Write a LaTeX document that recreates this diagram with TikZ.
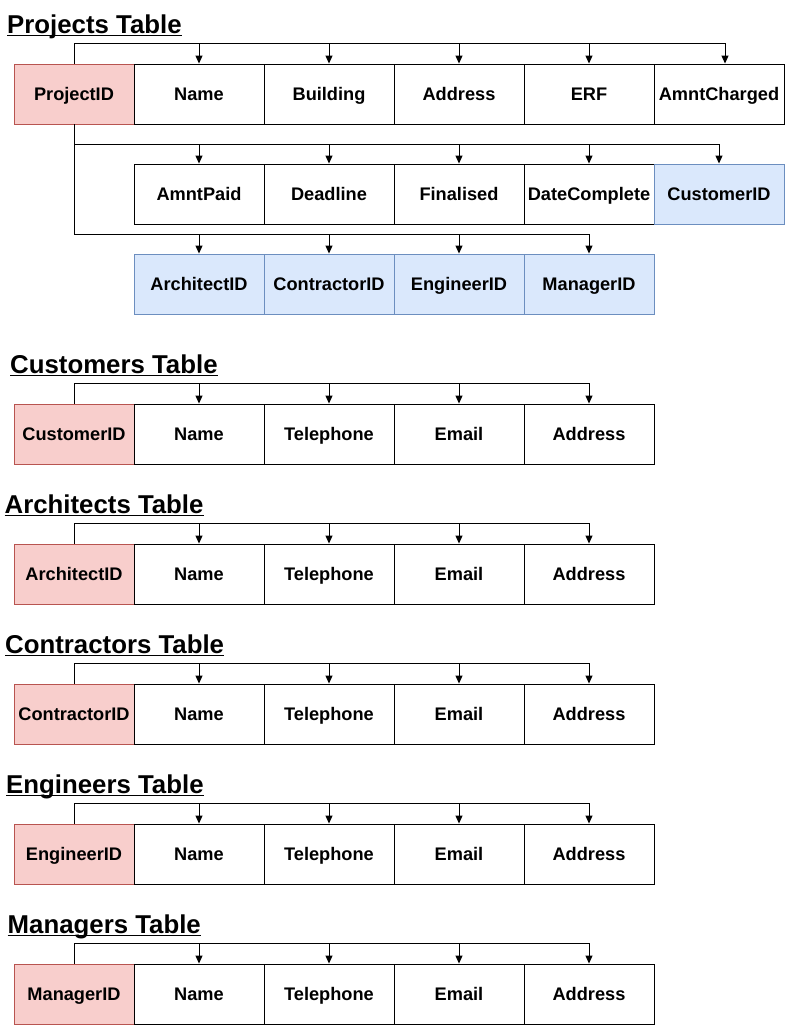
\documentclass[tikz,border=0pt]{standalone}
\usepackage{fontspec}
\setmainfont{Liberation Sans}
\usetikzlibrary{arrows.meta}
\definecolor{redfill}{HTML}{F8CECC}
\definecolor{redline}{HTML}{B85450}
\definecolor{bluefill}{HTML}{DAE8FC}
\definecolor{blueline}{HTML}{6C8EBF}
\begin{document}
\begin{tikzpicture}[x=1pt,y=-1pt,
 cell/.style={draw=black, line width=0.9pt, minimum width=130pt, minimum height=60pt, inner sep=0pt,
   font=\fontsize{18.2}{20}\selectfont\bfseries, text height=13pt, text depth=0pt},
 key/.style={cell, fill=redfill, draw=redline, minimum width=120pt},
 fkey/.style={cell, fill=bluefill, draw=blueline},
 ttl/.style={anchor=base west, inner sep=0pt, font=\fontsize{25.8}{30}\selectfont\bfseries},
 ul/.style={line width=1.4pt},
 arr/.style={line width=0.9pt, -{Triangle[width=7pt,length=8pt]}}
]
\useasboundingbox (0,0) rectangle (788,1028);

% Projects table
\node[ttl] (p-t) at (7,33) {Projects Table};
\draw[ul] ([yshift=-2.3pt]p-t.base west) -- ([yshift=-2.3pt]p-t.base east);
\node[key] (p-id) at (74,94) {ProjectID};
\node[cell] (p-1) at (199,94) {Name};
\node[cell] (p-2) at (329,94) {Building};
\node[cell] (p-3) at (459,94) {Address};
\node[cell] (p-4) at (589,94) {ERF};
\node[cell] (p-5) at (719,94) {AmntCharged};

\node[cell] (q-1) at (199,194) {AmntPaid};
\node[cell] (q-2) at (329,194) {Deadline};
\node[cell] (q-3) at (459,194) {Finalised};
\node[cell] (q-4) at (589,194) {DateComplete};
\node[fkey] (q-5) at (719,194) {CustomerID};

\node[fkey] (r-1) at (199,284) {ArchitectID};
\node[fkey] (r-2) at (329,284) {ContractorID};
\node[fkey] (r-3) at (459,284) {EngineerID};
\node[fkey] (r-4) at (589,284) {ManagerID};

\foreach \j in {1,...,4} \draw[arr] (p-id.north) -- ++(0,-20) -| (p-\j.north);
\draw[arr] (p-id.north) -- ++(0,-20) -| ([xshift=6pt]p-5.north);
\foreach \j in {1,...,5} \draw[arr] (p-id.south) -- ++(0,20) -| (q-\j.north);
\foreach \j in {1,...,4} \draw[arr] (p-id.south) -- ++(0,110) -| (r-\j.north);

% Other tables
\foreach \title/\idtext/\top/\tx/\p in {Customers Table/CustomerID/404/10/c,
  Architects Table/ArchitectID/544/4.5/a, Contractors Table/ContractorID/684/5/k,
  Engineers Table/EngineerID/824/6/e, Managers Table/ManagerID/964/7.5/m}{
  \node[ttl] (\p-t) at (\tx,\top-31) {\title};
  \draw[ul] ([yshift=-2.3pt]\p-t.base west) -- ([yshift=-2.3pt]\p-t.base east);
  \node[key] (\p-id) at (74,\top+30) {\idtext};
  \node[cell] (\p-1) at (199,\top+30) {Name};
  \node[cell] (\p-2) at (329,\top+30) {Telephone};
  \node[cell] (\p-3) at (459,\top+30) {Email};
  \node[cell] (\p-4) at (589,\top+30) {Address};
  \foreach \j in {1,...,4} \draw[arr] (\p-id.north) -- ++(0,-20) -| (\p-\j.north);
}
\end{tikzpicture}
\end{document}
